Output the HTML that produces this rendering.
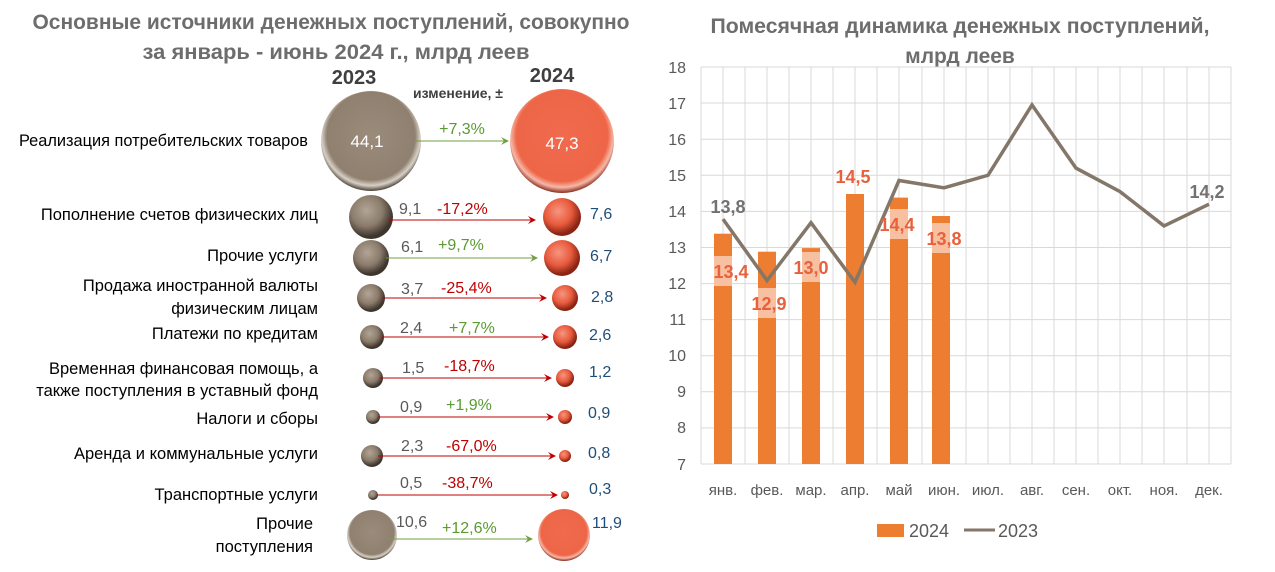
<!DOCTYPE html>
<html><head><meta charset="utf-8"><style>
body{margin:0;background:#fff;}
svg{display:block;font-family:"Liberation Sans","DejaVu Sans",sans-serif;}
</style></head><body>
<svg width="1275" height="572" viewBox="0 0 1275 572" xmlns="http://www.w3.org/2000/svg">
<defs>
<radialGradient id="gb" cx="50%" cy="45%" r="55%">
<stop offset="0" stop-color="#9a8b7b"/><stop offset="0.8" stop-color="#8f8070"/><stop offset="0.9" stop-color="#d8d0c6"/><stop offset="1" stop-color="#4a4036"/></radialGradient>
<radialGradient id="go" cx="50%" cy="45%" r="55%">
<stop offset="0" stop-color="#f06a4e"/><stop offset="0.8" stop-color="#ee6647"/><stop offset="0.9" stop-color="#f5b8a8"/><stop offset="1" stop-color="#8a2c1c"/></radialGradient>
<radialGradient id="gbs" cx="40%" cy="35%" r="60%">
<stop offset="0" stop-color="#b3a595"/><stop offset="0.6" stop-color="#8a7b6b"/><stop offset="1" stop-color="#3e352d"/></radialGradient>
<radialGradient id="gos" cx="40%" cy="35%" r="60%">
<stop offset="0" stop-color="#f79580"/><stop offset="0.6" stop-color="#e85a3c"/><stop offset="1" stop-color="#8a2414"/></radialGradient>
<marker id="ag" markerWidth="8" markerHeight="8" refX="7" refY="4" orient="auto"><path d="M0,0 L8,4 L0,8 L3,4z" fill="#70a040"/></marker>
<marker id="ar" markerWidth="8" markerHeight="8" refX="7" refY="4" orient="auto"><path d="M0,0 L8,4 L0,8 L3,4z" fill="#c00000"/></marker>
</defs>

<g font-weight="bold" fill="#6d6d6d" font-size="21" text-anchor="middle">
<text x="331" y="29" textLength="597" lengthAdjust="spacingAndGlyphs">Основные источники денежных поступлений, совокупно</text>
<text x="336" y="59" textLength="387" lengthAdjust="spacingAndGlyphs">за январь - июнь 2024 г., млрд  леев</text>
</g>
<g font-weight="bold" fill="#3f3f3f" text-anchor="middle">
<text x="354" y="84" font-size="20">2023</text>
<text x="552" y="82" font-size="20">2024</text>
<text x="458" y="98" font-size="14">изменение, ±</text>
</g>

<g font-size="16.5" fill="#000" text-anchor="end">
<text x="308" y="146" textLength="289" lengthAdjust="spacingAndGlyphs">Реализация потребительских товаров</text>
<text x="318" y="220">Пополнение счетов физических лиц</text>
<text x="318" y="261">Прочие услуги</text>
<text x="318" y="291">Продажа иностранной валюты</text>
<text x="318" y="314">физическим лицам</text>
<text x="318" y="339">Платежи по кредитам</text>
<text x="318" y="374">Временная финансовая помощь, а</text>
<text x="318" y="396">также поступления в уставный фонд</text>
<text x="318" y="424">Налоги и сборы</text>
<text x="318" y="459">Аренда и коммунальные услуги</text>
<text x="318" y="500">Транспортные услуги</text>
<text x="313" y="529">Прочие</text>
<text x="313" y="552">поступления</text>
</g>

<g>
<circle cx="371" cy="141" r="50" fill="url(#gb)"/>
<circle cx="562" cy="141" r="52" fill="url(#go)"/>
<text x="367" y="147" fill="#fff" font-size="17" text-anchor="middle">44,1</text>
<text x="562" y="149" fill="#fff" font-size="17" text-anchor="middle">47,3</text>
<line x1="415" y1="141" x2="508" y2="141" stroke="#70a040" stroke-width="1" marker-end="url(#ag)"/>
<text x="462" y="134" fill="#5a9a30" font-size="16" text-anchor="middle">+7,3%</text>
</g>

<g font-size="16">
<circle cx="371" cy="217" r="22" fill="url(#gbs)"/>
<circle cx="562" cy="217" r="19" fill="url(#gos)"/>
<line x1="388" y1="220" x2="535" y2="220" stroke="#c00000" marker-end="url(#ar)"/>
<text x="399" y="214" fill="#595959">9,1</text><text x="437" y="214" fill="#c00000">-17,2%</text><text x="590" y="219" fill="#1f4e79">7,6</text>

<circle cx="371" cy="258" r="18" fill="url(#gbs)"/>
<circle cx="562" cy="258" r="18" fill="url(#gos)"/>
<line x1="386" y1="258" x2="537" y2="258" stroke="#70a040" marker-end="url(#ag)"/>
<text x="401" y="252" fill="#595959">6,1</text><text x="438" y="250" fill="#5a9a30">+9,7%</text><text x="590" y="261" fill="#1f4e79">6,7</text>

<circle cx="371" cy="298" r="14" fill="url(#gbs)"/>
<circle cx="565" cy="298" r="13" fill="url(#gos)"/>
<line x1="382" y1="298" x2="546" y2="298" stroke="#c00000" marker-end="url(#ar)"/>
<text x="401" y="294" fill="#595959">3,7</text><text x="441" y="293" fill="#c00000">-25,4%</text><text x="591" y="302" fill="#1f4e79">2,8</text>

<circle cx="372" cy="337" r="12" fill="url(#gbs)"/>
<circle cx="565" cy="337" r="12" fill="url(#gos)"/>
<line x1="382" y1="337" x2="548" y2="337" stroke="#c00000" marker-end="url(#ar)"/>
<text x="400" y="333" fill="#595959">2,4</text><text x="449" y="333" fill="#5a9a30">+7,7%</text><text x="589" y="340" fill="#1f4e79">2,6</text>

<circle cx="373" cy="378" r="10" fill="url(#gbs)"/>
<circle cx="565" cy="378" r="9" fill="url(#gos)"/>
<line x1="380" y1="378" x2="551" y2="378" stroke="#c00000" marker-end="url(#ar)"/>
<text x="402" y="373" fill="#595959">1,5</text><text x="444" y="371" fill="#c00000">-18,7%</text><text x="589" y="377" fill="#1f4e79">1,2</text>

<circle cx="373" cy="417" r="7" fill="url(#gbs)"/>
<circle cx="565" cy="417" r="7" fill="url(#gos)"/>
<line x1="378" y1="417" x2="553" y2="417" stroke="#c00000" marker-end="url(#ar)"/>
<text x="400" y="412" fill="#595959">0,9</text><text x="446" y="410" fill="#5a9a30">+1,9%</text><text x="588" y="418" fill="#1f4e79">0,9</text>

<circle cx="372" cy="456" r="11" fill="url(#gbs)"/>
<circle cx="565" cy="456" r="6" fill="url(#gos)"/>
<line x1="378" y1="456" x2="555" y2="456" stroke="#c00000" marker-end="url(#ar)"/>
<text x="401" y="451" fill="#595959">2,3</text><text x="446" y="451" fill="#c00000">-67,0%</text><text x="588" y="458" fill="#1f4e79">0,8</text>

<circle cx="373" cy="495" r="5" fill="url(#gbs)"/>
<circle cx="565" cy="495" r="4" fill="url(#gos)"/>
<line x1="377" y1="495" x2="557" y2="495" stroke="#c00000" marker-end="url(#ar)"/>
<text x="400" y="488" fill="#595959">0,5</text><text x="442" y="488" fill="#c00000">-38,7%</text><text x="589" y="494" fill="#1f4e79">0,3</text>

<circle cx="372" cy="535" r="25" fill="url(#gb)"/>
<circle cx="564" cy="535" r="26" fill="url(#go)"/>
<line x1="388" y1="539" x2="532" y2="539" stroke="#70a040" marker-end="url(#ag)"/>
<text x="396" y="527" fill="#595959">10,6</text><text x="442" y="533" fill="#5a9a30">+12,6%</text><text x="592" y="528" fill="#1f4e79">11,9</text>
</g>

<g font-weight="bold" fill="#6d6d6d" font-size="21" text-anchor="middle">
<text x="960" y="33" textLength="499" lengthAdjust="spacingAndGlyphs">Помесячная динамика денежных поступлений,</text>
<text x="960" y="63">млрд леев</text>
</g>
<g stroke="#d9d9d9" stroke-width="1">
<line x1="701" y1="67" x2="1231" y2="67"/><line x1="701" y1="103" x2="1231" y2="103"/>
<line x1="701" y1="139.2" x2="1231" y2="139.2"/><line x1="701" y1="175.3" x2="1231" y2="175.3"/>
<line x1="701" y1="211.4" x2="1231" y2="211.4"/><line x1="701" y1="247.5" x2="1231" y2="247.5"/>
<line x1="701" y1="283.6" x2="1231" y2="283.6"/><line x1="701" y1="319.6" x2="1231" y2="319.6"/>
<line x1="701" y1="355.7" x2="1231" y2="355.7"/><line x1="701" y1="391.8" x2="1231" y2="391.8"/>
<line x1="701" y1="427.9" x2="1231" y2="427.9"/><line x1="701" y1="464" x2="1231" y2="464"/>
</g>
<g stroke="#d9d9d9">
<path d="M701 67V464M723 67V464M745 67V464M767 67V464M789 67V464M811 67V464M833 67V464M855 67V464M877 67V464M899 67V464M922 67V464M944 67V464M966 67V464M988 67V464M1010 67V464M1032 67V464M1054 67V464M1076 67V464M1098 67V464M1120 67V464M1142 67V464M1164 67V464M1187 67V464M1209 67V464M1231 67V464"/>
</g>
<g font-size="16" fill="#595959" text-anchor="end">
<text x="686" y="73">18</text><text x="686" y="109">17</text><text x="686" y="145">16</text><text x="686" y="181">15</text>
<text x="686" y="217">14</text><text x="686" y="253">13</text><text x="686" y="289">12</text><text x="686" y="325">11</text>
<text x="686" y="361">10</text><text x="686" y="397">9</text><text x="686" y="433">8</text><text x="686" y="470">7</text>
</g>
<g fill="#ed7d31">
<rect x="714" y="233.7" width="18" height="230.3"/>
<rect x="758" y="251.7" width="18" height="212.3"/>
<rect x="802" y="248.1" width="18" height="215.9"/>
<rect x="846" y="194" width="18" height="270"/>
<rect x="890" y="197.6" width="18" height="266.4"/>
<rect x="932" y="216" width="18" height="248"/>
</g>
<g fill="#f7c0a0">
<rect x="714" y="256" width="18" height="30"/>
<rect x="758" y="288" width="18" height="30"/>
<rect x="802" y="252" width="18" height="30"/>
<rect x="890" y="209" width="18" height="30"/>
<rect x="932" y="223" width="18" height="30"/>
</g>
<polyline fill="none" stroke="#847769" stroke-width="3.5" stroke-linejoin="miter"
points="723,219.1 767,280.5 811,222.7 855,282.3 899,180.5 944,187.8 988,175.3 1032,104.9 1076,168.1 1120,191.6 1164,225.9 1209,204.2"/>
<g font-size="18" font-weight="bold" fill="#e8603c" text-anchor="middle">
<text x="731" y="278">13,4</text>
<text x="769" y="310">12,9</text>
<text x="811" y="274">13,0</text>
<text x="853" y="183">14,5</text>
<text x="897" y="231">14,4</text>
<text x="944" y="245">13,8</text>
</g>
<g font-size="18" font-weight="bold" fill="#767171" text-anchor="middle">
<text x="728" y="213">13,8</text>
<text x="1207" y="198">14,2</text>
</g>
<g font-size="15" fill="#595959" text-anchor="middle">
<text x="723" y="495">янв.</text><text x="767" y="495">фев.</text><text x="811" y="495">мар.</text><text x="855" y="495">апр.</text>
<text x="899" y="495">май</text><text x="944" y="495">июн.</text><text x="988" y="495">июл.</text><text x="1032" y="495">авг.</text>
<text x="1076" y="495">сен.</text><text x="1120" y="495">окт.</text><text x="1164" y="495">ноя.</text><text x="1209" y="495">дек.</text>
</g>
<rect x="877" y="524" width="27" height="13" fill="#ed7d31"/>
<text x="909" y="537" font-size="18" fill="#595959">2024</text>
<line x1="964" y1="530" x2="995" y2="530" stroke="#847769" stroke-width="3"/>
<text x="998" y="537" font-size="18" fill="#595959">2023</text>
</svg>
</body></html>
